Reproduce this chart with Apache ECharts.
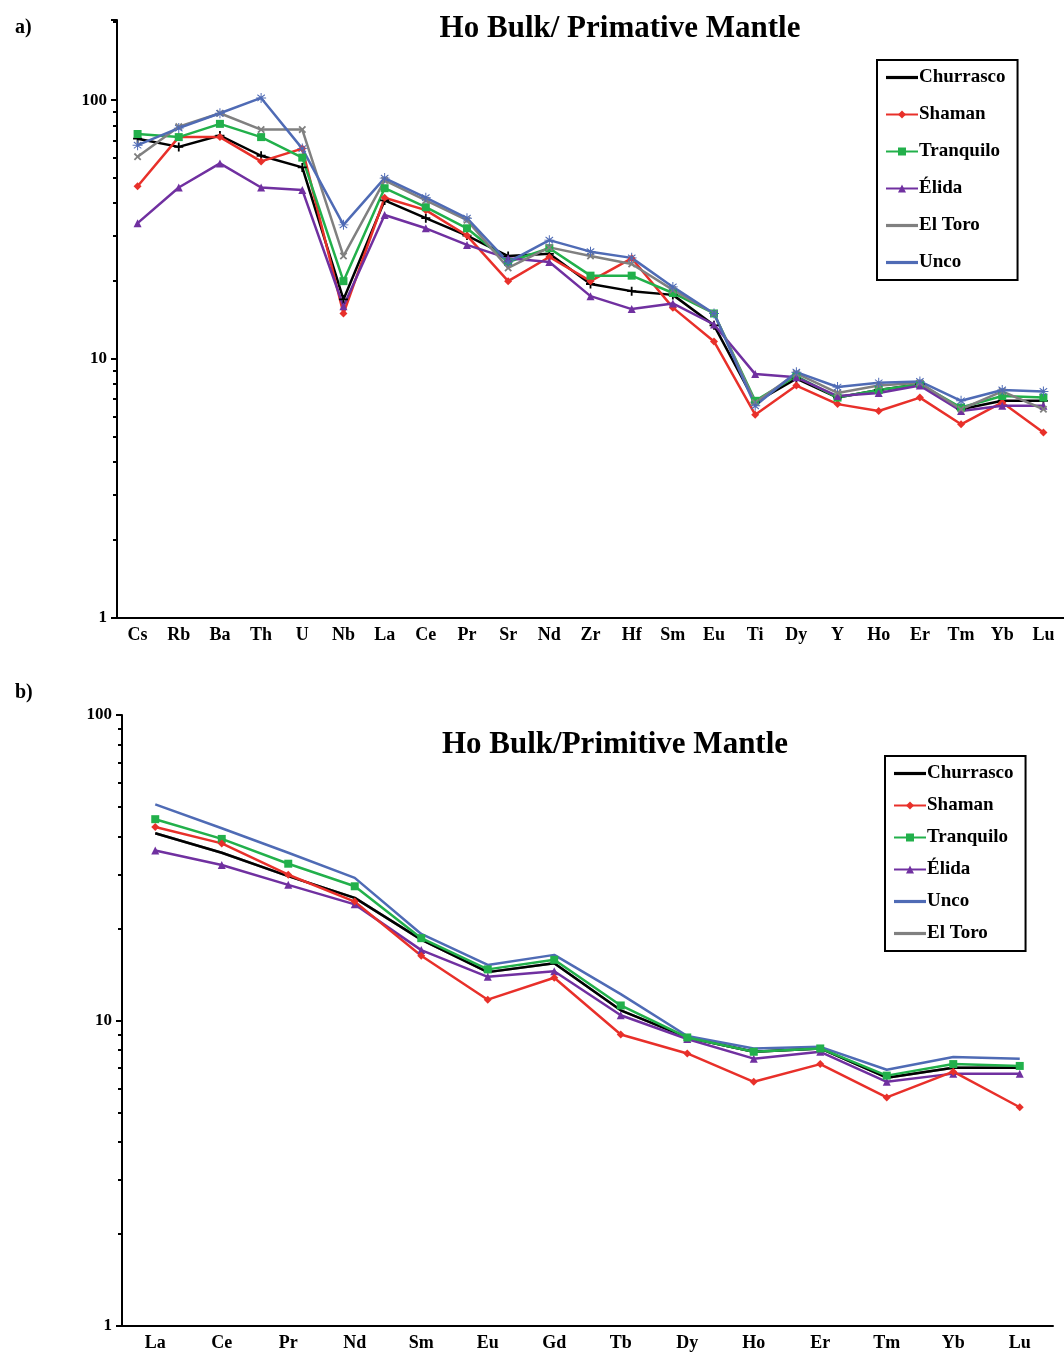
<!DOCTYPE html>
<html>
<head>
<meta charset="utf-8">
<script src="https://cdn.jsdelivr.net/npm/echarts@6/dist/echarts.min.js"></script>
<style>
  html, body { margin: 0; padding: 0; background: #fff; }
  #chart { width: 1064px; height: 1354px; }
</style>
</head>
<body>
<div id="chart"></div>
<script>
// top panel: trace elements
const traceElems = ['Cs', 'Rb', 'Ba', 'Th', 'U', 'Nb', 'La', 'Ce', 'Pr', 'Sr', 'Nd', 'Zr', 'Hf', 'Sm', 'Eu', 'Ti', 'Dy', 'Y', 'Ho', 'Er', 'Tm', 'Yb', 'Lu'];
const churrascoA = [71, 66, 73, 61, 55, 17, 41, 35, 30, 25, 25.5, 19.5, 18.3, 17.7, 13.5, 6.8, 8.4, 7.1, 7.6, 8.0, 6.4, 6.9, 6.9];
const shamanA = [46.5, 72, 72, 58, 65, 15, 42, 37.6, 30, 20, 24.8, 20, 24.5, 15.8, 11.7, 6.1, 7.9, 6.7, 6.3, 7.1, 5.6, 6.8, 5.2];
const tranquiloA = [74, 72, 81, 72, 60, 20, 45.7, 38.6, 32, 23.7, 26.8, 21, 21, 18, 15, 6.9, 8.6, 7.1, 7.6, 8.0, 6.5, 7.2, 7.1];
const elidaA = [33.5, 46, 57, 46, 45, 16, 36, 32, 27.6, 24.5, 23.7, 17.5, 15.6, 16.4, 13.6, 8.75, 8.5, 7.2, 7.4, 7.9, 6.3, 6.6, 6.6];
const elToroA = [60.5, 79, 89, 77, 77, 25, 49, 41, 34.4, 22.5, 27, 25, 23.3, 18.5, 15, 6.8, 8.8, 7.4, 7.9, 8.1, 6.4, 7.5, 6.4];
const uncoA = [67, 78, 89, 102, 65, 33, 50, 42, 35, 23.7, 28.8, 26, 24.6, 19, 15, 6.6, 8.9, 7.8, 8.1, 8.2, 6.9, 7.6, 7.5];

// bottom panel: REE
const reeElems = ['La', 'Ce', 'Pr', 'Nd', 'Sm', 'Eu', 'Gd', 'Tb', 'Dy', 'Ho', 'Er', 'Tm', 'Yb', 'Lu'];
const churrascoB = [41, 35.4, 29.7, 25.2, 18.4, 14.4, 15.4, 10.8, 8.8, 7.9, 8.1, 6.5, 7.0, 7.0];
const shamanB = [43, 38, 30, 24.5, 16.3, 11.7, 13.8, 9.0, 7.8, 6.3, 7.2, 5.6, 6.8, 5.2];
const tranquiloB = [45.6, 39.3, 32.6, 27.5, 18.6, 14.7, 15.8, 11.2, 8.8, 7.9, 8.1, 6.6, 7.2, 7.1];
const elidaB = [36, 32.3, 27.8, 24, 17, 13.9, 14.5, 10.4, 8.7, 7.5, 7.9, 6.3, 6.7, 6.7];
const uncoB = [51, 42.6, 35.4, 29.3, 19.2, 15.2, 16.4, 12.2, 8.9, 8.1, 8.2, 6.9, 7.6, 7.5];
const elToroB = [41, 35.4, 29.7, 25.2, 18.4, 14.4, 15.4, 10.8, 8.8, 7.9, 8.1, 6.5, 7.0, 7.0];

const FONT = 'Liberation Serif';
const plus = 'path://M4,0h2v4h4v2h-4v4h-2v-4h-4v-2h4z';
const star = 'path://M9,0h2v8l6,-5l1,2l-6,5h8v2h-8l6,5l-1,2l-6,-5v8h-2v-8l-6,5l-1,-2l6,-5h-8v-2h8l-6,-5l1,-2l6,5z';
const lineIcon = 'path://M0,0h30v3h-30z';

const styles = {
  Churrasco: { color: '#000000', symbol: plus, size: 9 },
  Shaman: { color: '#e8302a', symbol: 'diamond', size: 8 },
  Tranquilo: { color: '#22b04b', symbol: 'rect', size: 8 },
  'Élida': { color: '#7030a0', symbol: 'triangle', size: 8 },
  'El Toro': { color: '#808080', symbol: plus, size: 9, rotate: 45 },
  Unco: { color: '#4f6bb5', symbol: star, size: 10 }
};

function mk(name, data, idx, showSym) {
  const s = styles[name];
  return {
    name: name, type: 'line', data: data,
    xAxisIndex: idx, yAxisIndex: idx,
    symbol: showSym ? s.symbol : 'none',
    symbolSize: s.size, symbolRotate: s.rotate || 0,
    showSymbol: showSym,
    lineStyle: { color: s.color, width: 2.5 },
    itemStyle: { color: s.color },
    emphasis: { disabled: true }
  };
}

function legendItems(names, plain) {
  return names.map(n => plain.indexOf(n) >= 0
    ? { name: n, icon: lineIcon, itemStyle: { color: styles[n].color } }
    : { name: n });
}

const yAxisBase = {
  type: 'log', logBase: 10, min: 1,
  axisLine: { show: true, lineStyle: { color: '#000', width: 2 } },
  axisTick: { show: true, inside: false, length: 6, lineStyle: { color: '#000', width: 2 } },
  minorTick: { show: true, splitNumber: 9, length: 4, lineStyle: { color: '#000', width: 2 } },
  axisLabel: { color: '#000', fontFamily: FONT, fontWeight: 'bold', fontSize: 17, margin: 10 },
  splitLine: { show: false }
};
const xAxisBase = {
  type: 'category', boundaryGap: true,
  axisLine: { lineStyle: { color: '#000', width: 2 } },
  axisTick: { show: false },
  axisLabel: { color: '#000', fontFamily: FONT, fontWeight: 'bold', fontSize: 18, margin: 8, interval: 0 }
};
const legendBase = {
  orient: 'vertical', backgroundColor: '#fff',
  borderColor: '#000', borderWidth: 2, padding: [8, 12, 8, 8],
  itemWidth: 32, itemHeight: 10,
  textStyle: { color: '#000', fontFamily: FONT, fontWeight: 'bold', fontSize: 19, padding: [0, 0, 0, -4] }
};

const chart = echarts.init(document.getElementById('chart'));
chart.setOption({
  backgroundColor: '#fff',
  animation: false,
  title: [
    { text: 'Ho Bulk/ Primative Mantle', left: 615, top: 8, textAlign: 'center',
      textStyle: { fontFamily: FONT, fontWeight: 'bold', fontSize: 31, color: '#000' } },
    { text: 'Ho Bulk/Primitive Mantle', left: 610, top: 724, textAlign: 'center',
      textStyle: { fontFamily: FONT, fontWeight: 'bold', fontSize: 31, color: '#000' } },
    { text: 'a)', left: 10, top: 13, textStyle: { fontFamily: FONT, fontWeight: 'bold', fontSize: 20, color: '#000' } },
    { text: 'b)', left: 10, top: 678, textStyle: { fontFamily: FONT, fontWeight: 'bold', fontSize: 20, color: '#000' } }
  ],
  legend: [
    Object.assign({}, legendBase, { left: 877, top: 60, itemGap: 18,
      data: legendItems(['Churrasco', 'Shaman', 'Tranquilo', 'Élida', 'El Toro', 'Unco'], ['Churrasco', 'El Toro', 'Unco']) }),
    Object.assign({}, legendBase, { left: 885, top: 756, itemGap: 13,
      data: legendItems(['Churrasco', 'Shaman', 'Tranquilo', 'Élida', 'Unco', 'El Toro'], ['Churrasco', 'El Toro', 'Unco']) })
  ],
  grid: [
    { left: 117, right: 0, top: 20, height: 598 },
    { left: 122, right: 11, top: 715, height: 611 }
  ],
  xAxis: [
    Object.assign({}, xAxisBase, { gridIndex: 0, data: traceElems }),
    Object.assign({}, xAxisBase, { gridIndex: 1, data: reeElems })
  ],
  yAxis: [
    Object.assign({}, yAxisBase, { gridIndex: 0, max: 204,
      axisLabel: Object.assign({}, yAxisBase.axisLabel, { formatter: v => (v === 1 || v === 10 || v === 100) ? String(v) : '' }) }),
    Object.assign({}, yAxisBase, { gridIndex: 1, max: 100 })
  ],
  series: [
    mk('Churrasco', churrascoA, 0, true),
    mk('Shaman', shamanA, 0, true),
    mk('Tranquilo', tranquiloA, 0, true),
    mk('Élida', elidaA, 0, true),
    mk('El Toro', elToroA, 0, true),
    mk('Unco', uncoA, 0, true),
    mk('El Toro', elToroB, 1, false),
    mk('Churrasco', churrascoB, 1, false),
    mk('Unco', uncoB, 1, false),
    mk('Élida', elidaB, 1, true),
    mk('Tranquilo', tranquiloB, 1, true),
    mk('Shaman', shamanB, 1, true)
  ]
});
</script>
</body>
</html>
